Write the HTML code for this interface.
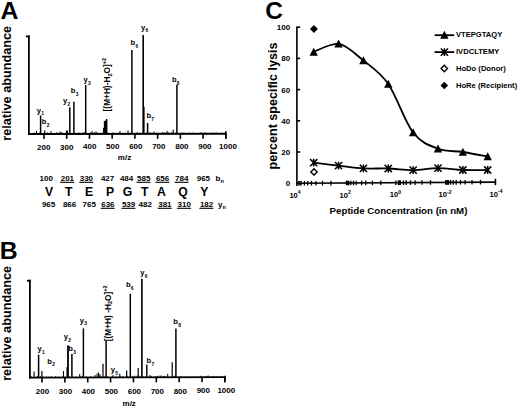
<!DOCTYPE html>
<html><head><meta charset="utf-8"><style>
html,body{margin:0;padding:0;background:#fff;width:520px;height:408px;overflow:hidden}
svg{display:block}
text{font-family:"Liberation Sans", sans-serif;fill:#000}
</style></head><body>
<svg width="520" height="408" viewBox="0 0 520 408">
<rect width="520" height="408" fill="#fff"/>
<text x="0.6" y="19.4" font-size="24.8" font-weight="bold" text-anchor="start" >A</text>
<text transform="translate(10.9,83.3) rotate(-90)" x="0" y="0" font-size="12.7" font-weight="bold" text-anchor="middle">relative abundance</text>
<line x1="28.9" y1="35.5" x2="28.9" y2="134.9" stroke="#000" stroke-width="1.8" />
<line x1="25.9" y1="36.4" x2="29.799999999999997" y2="36.4" stroke="#000" stroke-width="1.8" />
<line x1="28.0" y1="133.9" x2="226.4" y2="133.8" stroke="#000" stroke-width="2.0" />
<line x1="44.0" y1="133.8923311325546" x2="44.0" y2="138.8923311325546" stroke="#000" stroke-width="1.6" />
<text x="43.7" y="149.7" font-size="8" font-weight="bold" text-anchor="middle" >200</text>
<line x1="66.725" y1="133.88078974098528" x2="66.725" y2="138.88078974098528" stroke="#000" stroke-width="1.6" />
<text x="66.73" y="149.59" font-size="8" font-weight="bold" text-anchor="middle" >300</text>
<line x1="89.45" y1="133.86924834941595" x2="89.45" y2="138.86924834941595" stroke="#000" stroke-width="1.6" />
<text x="89.76" y="149.48" font-size="8" font-weight="bold" text-anchor="middle" >400</text>
<line x1="112.17500000000001" y1="133.85770695784663" x2="112.17500000000001" y2="138.85770695784663" stroke="#000" stroke-width="1.6" />
<text x="112.79" y="149.37" font-size="8" font-weight="bold" text-anchor="middle" >500</text>
<line x1="134.9" y1="133.8461655662773" x2="134.9" y2="138.8461655662773" stroke="#000" stroke-width="1.6" />
<text x="135.82" y="149.26" font-size="8" font-weight="bold" text-anchor="middle" >600</text>
<line x1="157.625" y1="133.83462417470798" x2="157.625" y2="138.83462417470798" stroke="#000" stroke-width="1.6" />
<text x="158.85" y="149.15" font-size="8" font-weight="bold" text-anchor="middle" >700</text>
<line x1="180.35000000000002" y1="133.82308278313866" x2="180.35000000000002" y2="138.82308278313866" stroke="#000" stroke-width="1.6" />
<text x="181.88" y="149.04" font-size="8" font-weight="bold" text-anchor="middle" >800</text>
<line x1="203.07500000000002" y1="133.81154139156934" x2="203.07500000000002" y2="138.81154139156934" stroke="#000" stroke-width="1.6" />
<text x="204.91" y="148.93" font-size="8" font-weight="bold" text-anchor="middle" >900</text>
<line x1="225.8" y1="133.8" x2="225.8" y2="138.8" stroke="#000" stroke-width="1.6" />
<text x="227.94" y="148.82" font-size="8" font-weight="bold" text-anchor="middle" >1000</text>
<line x1="225.8" y1="131.3" x2="225.8" y2="138.8" stroke="#000" stroke-width="1.6" />
<text x="124.5" y="160.2" font-size="8" font-weight="bold" text-anchor="middle" >m/z</text>
<line x1="30" y1="133.89944134078212" x2="30" y2="133.39944134078212" stroke="#000" stroke-width="0.9" />
<line x1="34.0" y1="133.89740985271712" x2="34.0" y2="132.4974098527171" stroke="#000" stroke-width="0.9" />
<line x1="36.3" y1="133.89624174707973" x2="36.3" y2="132.89624174707973" stroke="#000" stroke-width="0.9" />
<line x1="39.2" y1="133.89476891823261" x2="39.2" y2="132.5947689182326" stroke="#000" stroke-width="0.9" />
<line x1="43.0" y1="133.89283900457085" x2="43.0" y2="133.49283900457084" stroke="#000" stroke-width="0.9" />
<line x1="44.6" y1="133.89202640934485" x2="44.6" y2="132.29202640934486" stroke="#000" stroke-width="0.9" />
<line x1="47.4" y1="133.89060436769935" x2="47.4" y2="132.49060436769935" stroke="#000" stroke-width="0.9" />
<line x1="48.9" y1="133.88984255967497" x2="48.9" y2="132.88984255967497" stroke="#000" stroke-width="0.9" />
<line x1="52.6" y1="133.88796343321485" x2="52.6" y2="133.28796343321486" stroke="#000" stroke-width="0.9" />
<line x1="56.9" y1="133.88577958354495" x2="56.9" y2="132.18577958354496" stroke="#000" stroke-width="0.9" />
<line x1="58.5" y1="133.88496698831895" x2="58.5" y2="133.58496698831894" stroke="#000" stroke-width="0.9" />
<line x1="61.6" y1="133.88339258506858" x2="61.6" y2="132.1833925850686" stroke="#000" stroke-width="0.9" />
<line x1="64.3" y1="133.8820213306247" x2="64.3" y2="133.2820213306247" stroke="#000" stroke-width="0.9" />
<line x1="67.0" y1="133.8806500761808" x2="67.0" y2="133.5806500761808" stroke="#000" stroke-width="0.9" />
<line x1="69.2" y1="133.87953275774507" x2="69.2" y2="132.87953275774507" stroke="#000" stroke-width="0.9" />
<line x1="72.2" y1="133.8780091416963" x2="72.2" y2="133.27800914169632" stroke="#000" stroke-width="0.9" />
<line x1="74.4" y1="133.87689182326054" x2="74.4" y2="133.27689182326054" stroke="#000" stroke-width="0.9" />
<line x1="77.3" y1="133.87541899441342" x2="77.3" y2="133.17541899441343" stroke="#000" stroke-width="0.9" />
<line x1="78.8" y1="133.87465718638904" x2="78.8" y2="132.27465718638905" stroke="#000" stroke-width="0.9" />
<line x1="82.0" y1="133.87303199593703" x2="82.0" y2="132.57303199593701" stroke="#000" stroke-width="0.9" />
<line x1="84.1" y1="133.8719654647029" x2="84.1" y2="132.07196546470288" stroke="#000" stroke-width="0.9" />
<line x1="88.1" y1="133.8699339766379" x2="88.1" y2="133.3699339766379" stroke="#000" stroke-width="0.9" />
<line x1="90.6" y1="133.86866429659727" x2="90.6" y2="132.46866429659727" stroke="#000" stroke-width="0.9" />
<line x1="94.3" y1="133.86678517013712" x2="94.3" y2="132.16678517013713" stroke="#000" stroke-width="0.9" />
<line x1="97.0" y1="133.86541391569324" x2="97.0" y2="132.36541391569324" stroke="#000" stroke-width="0.9" />
<line x1="100.5" y1="133.86363636363637" x2="100.5" y2="133.06363636363636" stroke="#000" stroke-width="0.9" />
<line x1="103.8" y1="133.86196038598274" x2="103.8" y2="132.26196038598275" stroke="#000" stroke-width="0.9" />
<line x1="107.8" y1="133.85992889791774" x2="107.8" y2="132.75992889791775" stroke="#000" stroke-width="0.9" />
<line x1="111.1" y1="133.8582529202641" x2="111.1" y2="133.4582529202641" stroke="#000" stroke-width="0.9" />
<line x1="113.3" y1="133.85713560182836" x2="113.3" y2="132.35713560182836" stroke="#000" stroke-width="0.9" />
<line x1="116.1" y1="133.85571356018283" x2="116.1" y2="133.25571356018284" stroke="#000" stroke-width="0.9" />
<line x1="119.2" y1="133.85413915693246" x2="119.2" y2="132.45413915693246" stroke="#000" stroke-width="0.9" />
<line x1="122.8" y1="133.85231081767395" x2="122.8" y2="132.95231081767395" stroke="#000" stroke-width="0.9" />
<line x1="125.6" y1="133.85088877602846" x2="125.6" y2="132.75088877602846" stroke="#000" stroke-width="0.9" />
<line x1="129.4" y1="133.8489588623667" x2="129.4" y2="132.7489588623667" stroke="#000" stroke-width="0.9" />
<line x1="132.1" y1="133.8475876079228" x2="132.1" y2="132.8475876079228" stroke="#000" stroke-width="0.9" />
<line x1="133.7" y1="133.8467750126968" x2="133.7" y2="133.4467750126968" stroke="#000" stroke-width="0.9" />
<line x1="137.3" y1="133.8449466734383" x2="137.3" y2="132.0449466734383" stroke="#000" stroke-width="0.9" />
<line x1="140.6" y1="133.84327069578467" x2="140.6" y2="132.94327069578466" stroke="#000" stroke-width="0.9" />
<line x1="142.6" y1="133.84225495175218" x2="142.6" y2="132.7422549517522" stroke="#000" stroke-width="0.9" />
<line x1="147.0" y1="133.84002031488066" x2="147.0" y2="132.34002031488066" stroke="#000" stroke-width="0.9" />
<line x1="150.1" y1="133.8384459116303" x2="150.1" y2="132.2384459116303" stroke="#000" stroke-width="0.9" />
<line x1="152.3" y1="133.8373285931945" x2="152.3" y2="132.73732859319452" stroke="#000" stroke-width="0.9" />
<line x1="156.7" y1="133.83509395632302" x2="156.7" y2="132.63509395632303" stroke="#000" stroke-width="0.9" />
<line x1="159.6" y1="133.83362112747588" x2="159.6" y2="133.1336211274759" stroke="#000" stroke-width="0.9" />
<line x1="162.7" y1="133.8320467242255" x2="162.7" y2="132.13204672422552" stroke="#000" stroke-width="0.9" />
<line x1="164.2" y1="133.83128491620113" x2="164.2" y2="132.33128491620113" stroke="#000" stroke-width="0.9" />
<line x1="168.2" y1="133.82925342813613" x2="168.2" y2="132.22925342813613" stroke="#000" stroke-width="0.9" />
<line x1="171.9" y1="133.82737430167597" x2="171.9" y2="132.32737430167597" stroke="#000" stroke-width="0.9" />
<line x1="175.0" y1="133.8257998984256" x2="175.0" y2="132.7257998984256" stroke="#000" stroke-width="0.9" />
<line x1="177.7" y1="133.82442864398172" x2="177.7" y2="133.4244286439817" stroke="#000" stroke-width="0.9" />
<line x1="181.9" y1="133.82229558151346" x2="181.9" y2="132.62229558151347" stroke="#000" stroke-width="0.9" />
<line x1="184.0" y1="133.82122905027933" x2="184.0" y2="132.72122905027933" stroke="#000" stroke-width="0.9" />
<line x1="186.9" y1="133.81975622143221" x2="186.9" y2="133.0197562214322" stroke="#000" stroke-width="0.9" />
<line x1="189.5" y1="133.81843575418995" x2="189.5" y2="132.71843575418995" stroke="#000" stroke-width="0.9" />
<line x1="192.8" y1="133.81675977653632" x2="192.8" y2="132.61675977653633" stroke="#000" stroke-width="0.9" />
<line x1="195.7" y1="133.8152869476892" x2="195.7" y2="133.5152869476892" stroke="#000" stroke-width="0.9" />
<line x1="197.9" y1="133.81416962925343" x2="197.9" y2="133.21416962925343" stroke="#000" stroke-width="0.9" />
<line x1="201.1" y1="133.81254443880144" x2="201.1" y2="132.21254443880144" stroke="#000" stroke-width="0.9" />
<line x1="205.0" y1="133.81056373793805" x2="205.0" y2="132.31056373793805" stroke="#000" stroke-width="0.9" />
<line x1="209.0" y1="133.80853224987305" x2="209.0" y2="133.10853224987306" stroke="#000" stroke-width="0.9" />
<line x1="213.0" y1="133.80650076180802" x2="213.0" y2="132.506500761808" stroke="#000" stroke-width="0.9" />
<line x1="214.8" y1="133.80558659217877" x2="214.8" y2="133.50558659217876" stroke="#000" stroke-width="0.9" />
<line x1="216.3" y1="133.8048247841544" x2="216.3" y2="132.40482478415439" stroke="#000" stroke-width="0.9" />
<line x1="218.5" y1="133.80370746571865" x2="218.5" y2="133.30370746571865" stroke="#000" stroke-width="0.9" />
<line x1="221.9" y1="133.8019807008634" x2="221.9" y2="133.00198070086338" stroke="#000" stroke-width="0.9" />
<line x1="223.6" y1="133.80111731843576" x2="223.6" y2="133.30111731843576" stroke="#000" stroke-width="0.9" />
<line x1="36.5" y1="133.8961401726765" x2="36.5" y2="130.8" stroke="#000" stroke-width="1.1" />
<line x1="40.6" y1="133.89405789740985" x2="40.6" y2="115.5" stroke="#000" stroke-width="1.5" />
<line x1="44.7" y1="133.89197562214324" x2="44.7" y2="130.5" stroke="#000" stroke-width="1.2" />
<line x1="51" y1="133.88877602844084" x2="51" y2="131.2" stroke="#000" stroke-width="1" />
<line x1="60" y1="133.88420518029457" x2="60" y2="131.5" stroke="#000" stroke-width="1" />
<line x1="66.5" y1="133.88090401218892" x2="66.5" y2="130.6" stroke="#000" stroke-width="1.2" />
<line x1="67.6" y1="133.88034535297106" x2="67.6" y2="130.5" stroke="#000" stroke-width="1" />
<line x1="69.8" y1="133.87922803453532" x2="69.8" y2="107.2" stroke="#000" stroke-width="1.5" />
<line x1="73.9" y1="133.87714575926867" x2="73.9" y2="101.8" stroke="#000" stroke-width="1.5" />
<line x1="85.7" y1="133.8711528694769" x2="85.7" y2="84.9" stroke="#000" stroke-width="1.5" />
<line x1="103.4" y1="133.86216353478923" x2="103.4" y2="127.9" stroke="#000" stroke-width="1.0" />
<line x1="104.5" y1="133.86160487557137" x2="104.5" y2="121" stroke="#000" stroke-width="1.3" />
<line x1="105.6" y1="133.8610462163535" x2="105.6" y2="120.5" stroke="#000" stroke-width="1.3" />
<line x1="106.7" y1="133.8604875571356" x2="106.7" y2="118.9" stroke="#000" stroke-width="1.4" />
<line x1="131.9" y1="133.84768918232606" x2="131.9" y2="50.1" stroke="#000" stroke-width="1.5" />
<line x1="143.2" y1="133.84195022854243" x2="143.2" y2="35" stroke="#000" stroke-width="1.6" />
<line x1="144.1" y1="133.8414931437278" x2="144.1" y2="106.8" stroke="#000" stroke-width="1.0" />
<line x1="147.6" y1="133.8397155916709" x2="147.6" y2="123" stroke="#000" stroke-width="1.5" />
<line x1="173.2" y1="133.82671406805486" x2="173.2" y2="129.7" stroke="#000" stroke-width="1.1" />
<line x1="176.9" y1="133.82483494159473" x2="176.9" y2="84.7" stroke="#000" stroke-width="1.5" />
<line x1="120" y1="133.85373285931945" x2="120" y2="131" stroke="#000" stroke-width="1" />
<line x1="128" y1="133.84966988318945" x2="128" y2="130.5" stroke="#000" stroke-width="1" />
<line x1="154" y1="133.8364652107669" x2="154" y2="131.5" stroke="#000" stroke-width="1" />
<line x1="167" y1="133.82986287455563" x2="167" y2="131" stroke="#000" stroke-width="1" />
<line x1="92" y1="133.8679532757745" x2="92" y2="131" stroke="#000" stroke-width="1" />
<line x1="96" y1="133.8659217877095" x2="96" y2="131.5" stroke="#000" stroke-width="1" />
<text x="36.8" y="112.6" font-size="7.6" font-weight="bold">y<tspan font-size="4.9" dx="0.3" dy="2.7">1</tspan></text>
<text x="41.699999999999996" y="123.8" font-size="7.6" font-weight="bold">b<tspan font-size="4.9" dx="0.3" dy="2.7">2</tspan></text>
<text x="63.0" y="102.9" font-size="7.6" font-weight="bold">y<tspan font-size="4.9" dx="0.3" dy="2.7">2</tspan></text>
<text x="70.80000000000001" y="93.2" font-size="7.6" font-weight="bold">b<tspan font-size="4.9" dx="0.3" dy="2.7">3</tspan></text>
<text x="83.4" y="81.9" font-size="7.6" font-weight="bold">y<tspan font-size="4.9" dx="0.3" dy="2.7">3</tspan></text>
<text x="130.6" y="45.0" font-size="7.6" font-weight="bold">b<tspan font-size="4.9" dx="0.3" dy="2.7">6</tspan></text>
<text x="141.0" y="29.7" font-size="7.6" font-weight="bold">y<tspan font-size="4.9" dx="0.3" dy="2.7">6</tspan></text>
<text x="146.4" y="117.8" font-size="7.6" font-weight="bold">b<tspan font-size="4.9" dx="0.3" dy="2.7">7</tspan></text>
<text x="171.9" y="81.8" font-size="7.6" font-weight="bold">b<tspan font-size="4.9" dx="0.3" dy="2.7">8</tspan></text>
<text transform="translate(110.0,111.4) rotate(-90)" font-size="8.3" font-weight="bold">[(M+H)-H<tspan font-size="5.6" dy="1.6">2</tspan><tspan dy="-1.6">O]</tspan><tspan font-size="5.6" dy="-3.6">+2</tspan></text>
<text x="46.3" y="181.3" font-size="8" font-weight="bold" text-anchor="middle" >100</text>
<text x="67.4" y="181.3" font-size="8" font-weight="bold" text-anchor="middle" >201</text>
<line x1="60.2" y1="182.3" x2="74.2" y2="182.3" stroke="#000" stroke-width="1.1" />
<text x="86.4" y="181.3" font-size="8" font-weight="bold" text-anchor="middle" >330</text>
<line x1="79.2" y1="182.3" x2="93.2" y2="182.3" stroke="#000" stroke-width="1.1" />
<text x="107.6" y="181.3" font-size="8" font-weight="bold" text-anchor="middle" >427</text>
<text x="126.6" y="181.3" font-size="8" font-weight="bold" text-anchor="middle" >484</text>
<text x="143.7" y="181.3" font-size="8" font-weight="bold" text-anchor="middle" >585</text>
<line x1="136.5" y1="182.3" x2="150.5" y2="182.3" stroke="#000" stroke-width="1.1" />
<text x="162.6" y="181.3" font-size="8" font-weight="bold" text-anchor="middle" >656</text>
<line x1="155.4" y1="182.3" x2="169.4" y2="182.3" stroke="#000" stroke-width="1.1" />
<text x="181.8" y="181.3" font-size="8" font-weight="bold" text-anchor="middle" >784</text>
<line x1="174.60000000000002" y1="182.3" x2="188.60000000000002" y2="182.3" stroke="#000" stroke-width="1.1" />
<text x="203.4" y="181.3" font-size="8" font-weight="bold" text-anchor="middle" >965</text>
<text x="215.6" y="181" font-size="8" font-weight="bold">b<tspan font-size="5.5" dy="2">n</tspan></text>
<text x="49.1" y="196.3" font-size="12.2" font-weight="bold" text-anchor="middle" >V</text>
<text x="68.8" y="196.3" font-size="12.2" font-weight="bold" text-anchor="middle" >T</text>
<text x="89.1" y="196.3" font-size="12.2" font-weight="bold" text-anchor="middle" >E</text>
<text x="110" y="196.3" font-size="12.2" font-weight="bold" text-anchor="middle" >P</text>
<text x="127.5" y="196.3" font-size="12.2" font-weight="bold" text-anchor="middle" >G</text>
<text x="144.8" y="196.3" font-size="12.2" font-weight="bold" text-anchor="middle" >T</text>
<text x="161.4" y="196.3" font-size="12.2" font-weight="bold" text-anchor="middle" >A</text>
<text x="183.1" y="196.3" font-size="12.2" font-weight="bold" text-anchor="middle" >Q</text>
<text x="204.2" y="196.3" font-size="12.2" font-weight="bold" text-anchor="middle" >Y</text>
<text x="48.6" y="207.2" font-size="8" font-weight="bold" text-anchor="middle" >965</text>
<text x="69.6" y="207.2" font-size="8" font-weight="bold" text-anchor="middle" >866</text>
<text x="89.2" y="207.2" font-size="8" font-weight="bold" text-anchor="middle" >765</text>
<text x="107.9" y="207.2" font-size="8" font-weight="bold" text-anchor="middle" >636</text>
<line x1="100.7" y1="208.3" x2="114.7" y2="208.3" stroke="#000" stroke-width="1.1" />
<text x="128.6" y="207.2" font-size="8" font-weight="bold" text-anchor="middle" >539</text>
<line x1="121.39999999999999" y1="208.3" x2="135.4" y2="208.3" stroke="#000" stroke-width="1.1" />
<text x="145.3" y="207.2" font-size="8" font-weight="bold" text-anchor="middle" >482</text>
<text x="164.9" y="207.2" font-size="8" font-weight="bold" text-anchor="middle" >381</text>
<line x1="157.70000000000002" y1="208.3" x2="171.70000000000002" y2="208.3" stroke="#000" stroke-width="1.1" />
<text x="184.2" y="207.2" font-size="8" font-weight="bold" text-anchor="middle" >310</text>
<line x1="177.0" y1="208.3" x2="191.0" y2="208.3" stroke="#000" stroke-width="1.1" />
<text x="206.6" y="207.2" font-size="8" font-weight="bold" text-anchor="middle" >182</text>
<line x1="199.4" y1="208.3" x2="213.4" y2="208.3" stroke="#000" stroke-width="1.1" />
<text x="218" y="207" font-size="8" font-weight="bold">y<tspan font-size="5.5" dy="2">n</tspan></text>
<text x="-0.25" y="259.0" font-size="24.8" font-weight="bold" text-anchor="start" >B</text>
<text transform="translate(10.9,323.4) rotate(-90)" x="0" y="0" font-size="12.7" font-weight="bold" text-anchor="middle">relative abundance</text>
<line x1="29.9" y1="279.8" x2="29.9" y2="378.6" stroke="#000" stroke-width="1.8" />
<line x1="26.9" y1="280.7" x2="30.799999999999997" y2="280.7" stroke="#000" stroke-width="1.8" />
<line x1="29.0" y1="377.6" x2="225.48" y2="377.2" stroke="#000" stroke-width="1.7" />
<line x1="42.0" y1="377.57517694122475" x2="42.0" y2="382.57517694122475" stroke="#000" stroke-width="1.6" />
<text x="42.45" y="394.3" font-size="8" font-weight="bold" text-anchor="middle" >200</text>
<line x1="64.86" y1="377.52827982357167" x2="64.86" y2="382.52827982357167" stroke="#000" stroke-width="1.6" />
<text x="65.43" y="394.18" font-size="8" font-weight="bold" text-anchor="middle" >300</text>
<line x1="87.72" y1="377.4813827059186" x2="87.72" y2="382.4813827059186" stroke="#000" stroke-width="1.6" />
<text x="88.41" y="394.06" font-size="8" font-weight="bold" text-anchor="middle" >400</text>
<line x1="110.58" y1="377.4344855882655" x2="110.58" y2="382.4344855882655" stroke="#000" stroke-width="1.6" />
<text x="111.39" y="393.94" font-size="8" font-weight="bold" text-anchor="middle" >500</text>
<line x1="133.44" y1="377.3875884706124" x2="133.44" y2="382.3875884706124" stroke="#000" stroke-width="1.6" />
<text x="134.37" y="393.82" font-size="8" font-weight="bold" text-anchor="middle" >600</text>
<line x1="156.3" y1="377.34069135295925" x2="156.3" y2="382.34069135295925" stroke="#000" stroke-width="1.6" />
<text x="157.35" y="393.7" font-size="8" font-weight="bold" text-anchor="middle" >700</text>
<line x1="179.16" y1="377.29379423530617" x2="179.16" y2="382.29379423530617" stroke="#000" stroke-width="1.6" />
<text x="180.33" y="393.58" font-size="8" font-weight="bold" text-anchor="middle" >800</text>
<line x1="202.01999999999998" y1="377.2468971176531" x2="202.01999999999998" y2="382.2468971176531" stroke="#000" stroke-width="1.6" />
<text x="203.31" y="393.46" font-size="8" font-weight="bold" text-anchor="middle" >900</text>
<line x1="224.88" y1="377.2" x2="224.88" y2="382.2" stroke="#000" stroke-width="1.6" />
<text x="226.29" y="393.34" font-size="8" font-weight="bold" text-anchor="middle" >1000</text>
<line x1="224.88" y1="376.59999999999997" x2="224.88" y2="382.2" stroke="#000" stroke-width="1.6" />
<text x="129.2" y="406.4" font-size="8" font-weight="bold" text-anchor="middle" >m/z</text>
<line x1="31" y1="377.5977433582932" x2="31" y2="375.8977433582932" stroke="#000" stroke-width="0.9" />
<line x1="35.3" y1="377.5889219407119" x2="35.3" y2="377.1889219407119" stroke="#000" stroke-width="0.9" />
<line x1="37.1" y1="377.5852292542825" x2="37.1" y2="375.9852292542825" stroke="#000" stroke-width="0.9" />
<line x1="40.8" y1="377.57763873217766" x2="40.8" y2="376.27763873217765" stroke="#000" stroke-width="0.9" />
<line x1="43.2" y1="377.57271515027185" x2="43.2" y2="376.37271515027186" stroke="#000" stroke-width="0.9" />
<line x1="46.6" y1="377.56574007590524" x2="46.6" y2="376.36574007590525" stroke="#000" stroke-width="0.9" />
<line x1="48.5" y1="377.5618422402298" x2="48.5" y2="376.6618422402298" stroke="#000" stroke-width="0.9" />
<line x1="51.2" y1="377.5563032105857" x2="51.2" y2="376.15630321058575" stroke="#000" stroke-width="0.9" />
<line x1="55.7" y1="377.5470714945123" x2="55.7" y2="375.8470714945123" stroke="#000" stroke-width="0.9" />
<line x1="58.8" y1="377.5407118678839" x2="58.8" y2="376.5407118678839" stroke="#000" stroke-width="0.9" />
<line x1="61.1" y1="377.53599343522416" x2="61.1" y2="377.1359934352242" stroke="#000" stroke-width="0.9" />
<line x1="62.7" y1="377.5327110472869" x2="62.7" y2="376.5327110472869" stroke="#000" stroke-width="0.9" />
<line x1="65.2" y1="377.527582316135" x2="65.2" y2="376.62758231613503" stroke="#000" stroke-width="0.9" />
<line x1="69.3" y1="377.51917119704586" x2="69.3" y2="376.41917119704584" stroke="#000" stroke-width="0.9" />
<line x1="72.5" y1="377.5126064211714" x2="72.5" y2="376.81260642117144" stroke="#000" stroke-width="0.9" />
<line x1="74.1" y1="377.5093240332342" x2="74.1" y2="376.70932403323417" stroke="#000" stroke-width="0.9" />
<line x1="76.0" y1="377.50542619755873" x2="76.0" y2="376.4054261975587" stroke="#000" stroke-width="0.9" />
<line x1="80.5" y1="377.4961944814853" x2="80.5" y2="376.1961944814853" stroke="#000" stroke-width="0.9" />
<line x1="82.5" y1="377.4920914965638" x2="82.5" y2="375.89209149656375" stroke="#000" stroke-width="0.9" />
<line x1="86.4" y1="377.4840906759668" x2="86.4" y2="376.0840906759668" stroke="#000" stroke-width="0.9" />
<line x1="90.7" y1="377.4752692583855" x2="90.7" y2="376.0752692583855" stroke="#000" stroke-width="0.9" />
<line x1="94.5" y1="377.4674735870346" x2="94.5" y2="376.6674735870346" stroke="#000" stroke-width="0.9" />
<line x1="99.0" y1="377.45824187096116" x2="99.0" y2="375.75824187096117" stroke="#000" stroke-width="0.9" />
<line x1="101.0" y1="377.45413888603963" x2="101.0" y2="376.05413888603965" stroke="#000" stroke-width="0.9" />
<line x1="104.6" y1="377.44675351318085" x2="104.6" y2="376.44675351318085" stroke="#000" stroke-width="0.9" />
<line x1="107.7" y1="377.4403938865525" x2="107.7" y2="376.4403938865525" stroke="#000" stroke-width="0.9" />
<line x1="112.0" y1="377.4315724689712" x2="112.0" y2="376.33157246897116" stroke="#000" stroke-width="0.9" />
<line x1="116.0" y1="377.4233664991281" x2="116.0" y2="376.6233664991281" stroke="#000" stroke-width="0.9" />
<line x1="120.1" y1="377.414955380039" x2="120.1" y2="375.81495538003895" stroke="#000" stroke-width="0.9" />
<line x1="123.0" y1="377.4090060519028" x2="123.0" y2="376.2090060519028" stroke="#000" stroke-width="0.9" />
<line x1="127.3" y1="377.4001846343215" x2="127.3" y2="376.0001846343215" stroke="#000" stroke-width="0.9" />
<line x1="130.2" y1="377.39423530618524" x2="130.2" y2="376.7942353061852" stroke="#000" stroke-width="0.9" />
<line x1="132.7" y1="377.38910657503334" x2="132.7" y2="376.0891065750333" stroke="#000" stroke-width="0.9" />
<line x1="134.7" y1="377.3850035901118" x2="134.7" y2="375.6850035901118" stroke="#000" stroke-width="0.9" />
<line x1="137.0" y1="377.3802851574521" x2="137.0" y2="375.6802851574521" stroke="#000" stroke-width="0.9" />
<line x1="139.4" y1="377.3753615755462" x2="139.4" y2="375.6753615755462" stroke="#000" stroke-width="0.9" />
<line x1="143.0" y1="377.36797620268743" x2="143.0" y2="376.2679762026874" stroke="#000" stroke-width="0.9" />
<line x1="146.1" y1="377.3616165760591" x2="146.1" y2="376.06161657605907" stroke="#000" stroke-width="0.9" />
<line x1="149.4" y1="377.35484665093855" x2="149.4" y2="376.55484665093854" stroke="#000" stroke-width="0.9" />
<line x1="151.5" y1="377.35053851677094" x2="151.5" y2="376.2505385167709" stroke="#000" stroke-width="0.9" />
<line x1="155.8" y1="377.3417170991897" x2="155.8" y2="376.1417170991897" stroke="#000" stroke-width="0.9" />
<line x1="157.5" y1="377.33822956200635" x2="157.5" y2="375.83822956200635" stroke="#000" stroke-width="0.9" />
<line x1="161.2" y1="377.33063903990154" x2="161.2" y2="375.63063903990155" stroke="#000" stroke-width="0.9" />
<line x1="163.3" y1="377.3263309057339" x2="163.3" y2="375.92633090573395" stroke="#000" stroke-width="0.9" />
<line x1="164.9" y1="377.3230485177967" x2="164.9" y2="376.02304851779667" stroke="#000" stroke-width="0.9" />
<line x1="167.3" y1="377.31812493589086" x2="167.3" y2="376.71812493589084" stroke="#000" stroke-width="0.9" />
<line x1="171.4" y1="377.3097138168017" x2="171.4" y2="376.8097138168017" stroke="#000" stroke-width="0.9" />
<line x1="174.4" y1="377.30355933941945" x2="174.4" y2="375.7035593394194" stroke="#000" stroke-width="0.9" />
<line x1="176.7" y1="377.29884090675966" x2="176.7" y2="376.69884090675964" stroke="#000" stroke-width="0.9" />
<line x1="180.8" y1="377.2904297876705" x2="180.8" y2="376.39042978767054" stroke="#000" stroke-width="0.9" />
<line x1="184.5" y1="377.2828392655657" x2="184.5" y2="376.9828392655657" stroke="#000" stroke-width="0.9" />
<line x1="187.1" y1="377.27750538516773" x2="187.1" y2="376.6775053851677" stroke="#000" stroke-width="0.9" />
<line x1="190.6" y1="377.27032516155504" x2="190.6" y2="376.87032516155506" stroke="#000" stroke-width="0.9" />
<line x1="194.9" y1="377.2615037439737" x2="194.9" y2="376.9615037439737" stroke="#000" stroke-width="0.9" />
<line x1="198.6" y1="377.2539132218689" x2="198.6" y2="376.9539132218689" stroke="#000" stroke-width="0.9" />
<line x1="200.9" y1="377.2491947892091" x2="200.9" y2="375.7491947892091" stroke="#000" stroke-width="0.9" />
<line x1="202.9" y1="377.2450918042876" x2="202.9" y2="376.6450918042876" stroke="#000" stroke-width="0.9" />
<line x1="206.4" y1="377.23791158067496" x2="206.4" y2="376.337911580675" stroke="#000" stroke-width="0.9" />
<line x1="208.1" y1="377.23442404349163" x2="208.1" y2="375.4344240434916" stroke="#000" stroke-width="0.9" />
<line x1="210.0" y1="377.2305262078162" x2="210.0" y2="376.8305262078162" stroke="#000" stroke-width="0.9" />
<line x1="212.6" y1="377.2251923274182" x2="212.6" y2="376.0251923274182" stroke="#000" stroke-width="0.9" />
<line x1="216.3" y1="377.21760180531334" x2="216.3" y2="376.71760180531334" stroke="#000" stroke-width="0.9" />
<line x1="218.8" y1="377.21247307416144" x2="218.8" y2="376.9124730741614" stroke="#000" stroke-width="0.9" />
<line x1="221.6" y1="377.2067288952713" x2="221.6" y2="375.8067288952713" stroke="#000" stroke-width="0.9" />
<line x1="225.4" y1="377.1989332239204" x2="225.4" y2="375.4989332239204" stroke="#000" stroke-width="0.9" />
<line x1="34.1" y1="377.5913837316648" x2="34.1" y2="371.6" stroke="#000" stroke-width="1.1" />
<line x1="38.6" y1="377.58215201559136" x2="38.6" y2="354.7" stroke="#000" stroke-width="1.5" />
<line x1="41.9" y1="377.57538209047084" x2="41.9" y2="370.9" stroke="#000" stroke-width="1.2" />
<line x1="63.5" y1="377.5310698533183" x2="63.5" y2="371" stroke="#000" stroke-width="1.1" />
<line x1="67.0" y1="377.52388962970565" x2="67.0" y2="367" stroke="#000" stroke-width="1.1" />
<line x1="68.0" y1="377.52183813724486" x2="68.0" y2="345.4" stroke="#000" stroke-width="1.8" />
<line x1="71.9" y1="377.5138373166479" x2="71.9" y2="354.1" stroke="#000" stroke-width="1.5" />
<line x1="79.7" y1="377.4978356754539" x2="79.7" y2="374" stroke="#000" stroke-width="1" />
<line x1="83.4" y1="377.49024515334906" x2="83.4" y2="328.4" stroke="#000" stroke-width="1.5" />
<line x1="95" y1="377.4664478408042" x2="95" y2="375" stroke="#000" stroke-width="1" />
<line x1="97" y1="377.4623448558827" x2="97" y2="373.5" stroke="#000" stroke-width="1" />
<line x1="98.5" y1="377.45926761719153" x2="98.5" y2="372.5" stroke="#000" stroke-width="1" />
<line x1="100" y1="377.45619037850037" x2="100" y2="374" stroke="#000" stroke-width="1" />
<line x1="103" y1="377.4500359011181" x2="103" y2="363.8" stroke="#000" stroke-width="1.2" />
<line x1="106.1" y1="377.4436762744897" x2="106.1" y2="340.9" stroke="#000" stroke-width="1.5" />
<line x1="119.8" y1="377.41557082777723" x2="119.8" y2="373.7" stroke="#000" stroke-width="1" />
<line x1="126.7" y1="377.40141552979793" x2="126.7" y2="370.5" stroke="#000" stroke-width="1.2" />
<line x1="130.3" y1="377.39403015693915" x2="130.3" y2="293.8" stroke="#000" stroke-width="1.5" />
<line x1="138.2" y1="377.3778233664991" x2="138.2" y2="367.9" stroke="#000" stroke-width="1.2" />
<line x1="141.9" y1="377.3702328443943" x2="141.9" y2="278.8" stroke="#000" stroke-width="1.6" />
<line x1="146.8" y1="377.36018053133654" x2="146.8" y2="364.5" stroke="#000" stroke-width="1.4" />
<line x1="167.7" y1="377.3173043389066" x2="167.7" y2="373.8" stroke="#000" stroke-width="1" />
<line x1="172.2" y1="377.3080726228331" x2="172.2" y2="362.3" stroke="#000" stroke-width="1.2" />
<line x1="175.9" y1="377.3004821007283" x2="175.9" y2="328.4" stroke="#000" stroke-width="1.5" />
<line x1="113" y1="377.42952097651045" x2="113" y2="375" stroke="#000" stroke-width="1" />
<line x1="150" y1="377.3536157554621" x2="150" y2="375" stroke="#000" stroke-width="1" />
<line x1="160" y1="377.33310083085445" x2="160" y2="375.5" stroke="#000" stroke-width="1" />
<text x="37.5" y="351.3" font-size="7.6" font-weight="bold">y<tspan font-size="4.9" dx="0.3" dy="2.7">1</tspan></text>
<text x="47.3" y="363.6" font-size="7.6" font-weight="bold">b<tspan font-size="4.9" dx="0.3" dy="2.7">2</tspan></text>
<text x="63.8" y="338.9" font-size="7.6" font-weight="bold">y<tspan font-size="4.9" dx="0.3" dy="2.7">2</tspan></text>
<text x="68.30000000000001" y="351.0" font-size="7.6" font-weight="bold">b<tspan font-size="4.9" dx="0.3" dy="2.7">3</tspan></text>
<text x="79.7" y="322.7" font-size="7.6" font-weight="bold">y<tspan font-size="4.9" dx="0.3" dy="2.7">3</tspan></text>
<text x="110.8" y="371.8" font-size="7.6" font-weight="bold">y<tspan font-size="4.9" dx="0.3" dy="2.7">5</tspan></text>
<text x="125.9" y="287.2" font-size="7.6" font-weight="bold">b<tspan font-size="4.9" dx="0.3" dy="2.7">6</tspan></text>
<text x="140.2" y="275.4" font-size="7.6" font-weight="bold">y<tspan font-size="4.9" dx="0.3" dy="2.7">6</tspan></text>
<text x="146.6" y="363.1" font-size="7.6" font-weight="bold">b<tspan font-size="4.9" dx="0.3" dy="2.7">7</tspan></text>
<text x="173.3" y="324.0" font-size="7.6" font-weight="bold">b<tspan font-size="4.9" dx="0.3" dy="2.7">8</tspan></text>
<text transform="translate(110.6,341.2) rotate(-90)" font-size="8.3" font-weight="bold">[(M+H) -H<tspan font-size="5.6" dy="1.6">2</tspan><tspan dy="-1.6">O]</tspan><tspan font-size="5.6" dy="-3.6">+2</tspan></text>
<text x="265.3" y="18.7" font-size="24.5" font-weight="bold" text-anchor="start" >C</text>
<text transform="translate(277.2,106.0) rotate(-90)" font-size="12.55" font-weight="bold" text-anchor="middle">percent specific lysis</text>
<line x1="296.9" y1="26.599999999999987" x2="296.9" y2="186" stroke="#000" stroke-width="1.6" />
<line x1="296.9" y1="183.2" x2="300.09999999999997" y2="183.2" stroke="#000" stroke-width="1.6" />
<text x="290.2" y="186.1" font-size="8" font-weight="bold" text-anchor="end" >0</text>
<line x1="296.9" y1="152.0" x2="300.09999999999997" y2="152.0" stroke="#000" stroke-width="1.6" />
<text x="290.2" y="154.9" font-size="8" font-weight="bold" text-anchor="end" >20</text>
<line x1="296.9" y1="120.79999999999998" x2="300.09999999999997" y2="120.79999999999998" stroke="#000" stroke-width="1.6" />
<text x="290.2" y="123.69999999999999" font-size="8" font-weight="bold" text-anchor="end" >40</text>
<line x1="296.9" y1="89.59999999999998" x2="300.09999999999997" y2="89.59999999999998" stroke="#000" stroke-width="1.6" />
<text x="290.2" y="92.49999999999999" font-size="8" font-weight="bold" text-anchor="end" >60</text>
<line x1="296.9" y1="58.39999999999998" x2="300.09999999999997" y2="58.39999999999998" stroke="#000" stroke-width="1.6" />
<text x="290.2" y="61.299999999999976" font-size="8" font-weight="bold" text-anchor="end" >80</text>
<line x1="296.9" y1="27.19999999999999" x2="300.09999999999997" y2="27.19999999999999" stroke="#000" stroke-width="1.6" />
<text x="290.2" y="30.099999999999987" font-size="8" font-weight="bold" text-anchor="end" >100</text>
<line x1="296.9" y1="183.3006" x2="496.2" y2="182.1048" stroke="#000" stroke-width="1.6" />
<line x1="298.8" y1="180.99" x2="298.8" y2="185.59" stroke="#000" stroke-width="1.3" />
<line x1="300.0" y1="180.98" x2="300.0" y2="185.58" stroke="#000" stroke-width="1.3" />
<line x1="301.1" y1="180.98" x2="301.1" y2="185.58" stroke="#000" stroke-width="1.3" />
<line x1="304.4" y1="180.96" x2="304.4" y2="185.56" stroke="#000" stroke-width="1.3" />
<line x1="307.7" y1="180.94" x2="307.7" y2="185.54" stroke="#000" stroke-width="1.3" />
<line x1="311.5" y1="180.91" x2="311.5" y2="185.51" stroke="#000" stroke-width="1.3" />
<line x1="315.9" y1="180.89" x2="315.9" y2="185.49" stroke="#000" stroke-width="1.3" />
<line x1="322.5" y1="180.85" x2="322.5" y2="185.45" stroke="#000" stroke-width="1.3" />
<line x1="330.9" y1="180.8" x2="330.9" y2="185.4" stroke="#000" stroke-width="1.3" />
<line x1="346.4" y1="180.7" x2="346.4" y2="185.3" stroke="#000" stroke-width="1.3" />
<line x1="347.6" y1="180.7" x2="347.6" y2="185.3" stroke="#000" stroke-width="1.3" />
<line x1="348.7" y1="180.69" x2="348.7" y2="185.29" stroke="#000" stroke-width="1.3" />
<line x1="350.8" y1="180.68" x2="350.8" y2="185.28" stroke="#000" stroke-width="1.3" />
<line x1="353.5" y1="180.66" x2="353.5" y2="185.26" stroke="#000" stroke-width="1.3" />
<line x1="356.2" y1="180.64" x2="356.2" y2="185.24" stroke="#000" stroke-width="1.3" />
<line x1="361.6" y1="180.61" x2="361.6" y2="185.21" stroke="#000" stroke-width="1.3" />
<line x1="365.8" y1="180.59" x2="365.8" y2="185.19" stroke="#000" stroke-width="1.3" />
<line x1="372.4" y1="180.55" x2="372.4" y2="185.15" stroke="#000" stroke-width="1.3" />
<line x1="380.8" y1="180.5" x2="380.8" y2="185.1" stroke="#000" stroke-width="1.3" />
<line x1="395.8" y1="180.41" x2="395.8" y2="185.01" stroke="#000" stroke-width="1.3" />
<line x1="398.4" y1="180.39" x2="398.4" y2="184.99" stroke="#000" stroke-width="1.3" />
<line x1="399.4" y1="180.39" x2="399.4" y2="184.99" stroke="#000" stroke-width="1.3" />
<line x1="400.4" y1="180.38" x2="400.4" y2="184.98" stroke="#000" stroke-width="1.3" />
<line x1="403.5" y1="180.36" x2="403.5" y2="184.96" stroke="#000" stroke-width="1.3" />
<line x1="406.2" y1="180.34" x2="406.2" y2="184.94" stroke="#000" stroke-width="1.3" />
<line x1="410.5" y1="180.32" x2="410.5" y2="184.92" stroke="#000" stroke-width="1.3" />
<line x1="415.1" y1="180.29" x2="415.1" y2="184.89" stroke="#000" stroke-width="1.3" />
<line x1="422.0" y1="180.25" x2="422.0" y2="184.85" stroke="#000" stroke-width="1.3" />
<line x1="430.5" y1="180.2" x2="430.5" y2="184.8" stroke="#000" stroke-width="1.3" />
<line x1="445.7" y1="180.11" x2="445.7" y2="184.71" stroke="#000" stroke-width="1.3" />
<line x1="446.8" y1="180.1" x2="446.8" y2="184.7" stroke="#000" stroke-width="1.3" />
<line x1="447.8" y1="180.1" x2="447.8" y2="184.7" stroke="#000" stroke-width="1.3" />
<line x1="448.4" y1="180.09" x2="448.4" y2="184.69" stroke="#000" stroke-width="1.3" />
<line x1="450.5" y1="180.08" x2="450.5" y2="184.68" stroke="#000" stroke-width="1.3" />
<line x1="453.2" y1="180.06" x2="453.2" y2="184.66" stroke="#000" stroke-width="1.3" />
<line x1="456.2" y1="180.04" x2="456.2" y2="184.64" stroke="#000" stroke-width="1.3" />
<line x1="460.5" y1="180.02" x2="460.5" y2="184.62" stroke="#000" stroke-width="1.3" />
<line x1="465.1" y1="179.99" x2="465.1" y2="184.59" stroke="#000" stroke-width="1.3" />
<line x1="472.0" y1="179.95" x2="472.0" y2="184.55" stroke="#000" stroke-width="1.3" />
<line x1="480.5" y1="179.9" x2="480.5" y2="184.5" stroke="#000" stroke-width="1.3" />
<line x1="495.4" y1="178.7" x2="495.4" y2="185.2" stroke="#000" stroke-width="1.6" />
<text x="295.0" y="197.88" font-size="7.6" font-weight="bold" text-anchor="middle">10<tspan font-size="5" dy="-3.5">4</tspan></text>
<text x="345.1" y="197.62" font-size="7.6" font-weight="bold" text-anchor="middle">10<tspan font-size="5" dy="-3.5">2</tspan></text>
<text x="395.4" y="197.37" font-size="7.6" font-weight="bold" text-anchor="middle">10<tspan font-size="5" dy="-3.5">0</tspan></text>
<text x="445.0" y="197.12" font-size="7.6" font-weight="bold" text-anchor="middle">10<tspan font-size="5" dy="-3.5">-2</tspan></text>
<text x="496.0" y="196.87" font-size="7.6" font-weight="bold" text-anchor="middle">10<tspan font-size="5" dy="-3.5">-4</tspan></text>
<text x="398.5" y="213.7" font-size="9.7" font-weight="bold" text-anchor="middle" >Peptide Concentration (in nM)</text>
<path d="M313.70,51.90 C322.20,48.10 330.06,43.70 338.56,43.60 C346.85,45.03 355.13,53.77 363.42,60.50 C371.71,67.23 379.99,72.00 388.28,84.00 C396.57,96.00 404.85,121.72 413.14,132.50 C421.43,143.28 429.71,145.45 438.00,148.70 C446.29,151.95 454.57,150.70 462.86,152.00 C471.15,153.30 483.58,155.75 487.72,156.50" fill="none" stroke="#000" stroke-width="1.8"/>
<path d="M313.70,162.70 C317.84,163.18 330.27,164.65 338.56,165.60 C346.85,166.55 355.13,167.92 363.42,168.40 C371.71,168.88 379.99,168.22 388.28,168.50 C396.57,168.78 404.85,170.17 413.14,170.10 C421.43,170.03 429.71,168.12 438.00,168.10 C446.29,168.08 454.57,169.68 462.86,170.00 C471.15,170.32 483.58,170.00 487.72,170.00" fill="none" stroke="#000" stroke-width="1.8"/>
<path d="M313.70,47.70 L317.90,55.68 L309.50,55.68 Z" fill="#000"/>
<path d="M338.56,39.40 L342.76,47.38 L334.36,47.38 Z" fill="#000"/>
<path d="M363.42,56.30 L367.62,64.28 L359.22,64.28 Z" fill="#000"/>
<path d="M388.28,79.80 L392.48,87.78 L384.08,87.78 Z" fill="#000"/>
<path d="M413.14,128.30 L417.34,136.28 L408.94,136.28 Z" fill="#000"/>
<path d="M438.00,144.50 L442.20,152.48 L433.80,152.48 Z" fill="#000"/>
<path d="M462.86,147.80 L467.06,155.78 L458.66,155.78 Z" fill="#000"/>
<path d="M487.72,152.30 L491.92,160.28 L483.52,160.28 Z" fill="#000"/>
<path d="M310.10,159.10 L317.30,166.30 M317.30,159.10 L310.10,166.30 M313.70,158.80 L313.70,166.60" stroke="#000" stroke-width="1.5" fill="none"/>
<path d="M334.96,162.00 L342.16,169.20 M342.16,162.00 L334.96,169.20 M338.56,161.70 L338.56,169.50" stroke="#000" stroke-width="1.5" fill="none"/>
<path d="M359.82,164.80 L367.02,172.00 M367.02,164.80 L359.82,172.00 M363.42,164.50 L363.42,172.30" stroke="#000" stroke-width="1.5" fill="none"/>
<path d="M384.68,164.90 L391.88,172.10 M391.88,164.90 L384.68,172.10 M388.28,164.60 L388.28,172.40" stroke="#000" stroke-width="1.5" fill="none"/>
<path d="M409.54,166.50 L416.74,173.70 M416.74,166.50 L409.54,173.70 M413.14,166.20 L413.14,174.00" stroke="#000" stroke-width="1.5" fill="none"/>
<path d="M434.40,164.50 L441.60,171.70 M441.60,164.50 L434.40,171.70 M438.00,164.20 L438.00,172.00" stroke="#000" stroke-width="1.5" fill="none"/>
<path d="M459.26,166.40 L466.46,173.60 M466.46,166.40 L459.26,173.60 M462.86,166.10 L462.86,173.90" stroke="#000" stroke-width="1.5" fill="none"/>
<path d="M484.12,166.40 L491.32,173.60 M491.32,166.40 L484.12,173.60 M487.72,166.10 L487.72,173.90" stroke="#000" stroke-width="1.5" fill="none"/>
<path d="M313.90,25.00 L317.90,29.00 L313.90,33.00 L309.90,29.00 Z" fill="#000"/>
<path d="M314.00,168.70 L317.20,171.90 L314.00,175.10 L310.80,171.90 Z" fill="#fff" stroke="#000" stroke-width="1.4"/>
<line x1="434.6" y1="35.2" x2="454.2" y2="35.2" stroke="#000" stroke-width="1.8" />
<path d="M444.40,30.80 L448.60,38.78 L440.20,38.78 Z" fill="#000"/>
<text x="456.0" y="37.2" font-size="7.6" font-weight="bold" text-anchor="start" >VTEPGTAQY</text>
<line x1="434.6" y1="52.1" x2="454.2" y2="52.1" stroke="#000" stroke-width="1.8" />
<path d="M440.80,48.50 L448.00,55.70 M448.00,48.50 L440.80,55.70 M444.40,48.20 L444.40,56.00" stroke="#000" stroke-width="1.5" fill="none"/>
<text x="456.0" y="54.3" font-size="7.6" font-weight="bold" text-anchor="start" >IVDCLTEMY</text>
<path d="M444.30,65.30 L447.50,68.50 L444.30,71.70 L441.10,68.50 Z" fill="#fff" stroke="#000" stroke-width="1.4"/>
<text x="456.0" y="71.0" font-size="7.6" font-weight="bold" text-anchor="start" >HoDo (Donor)</text>
<path d="M444.30,81.70 L448.10,85.50 L444.30,89.30 L440.50,85.50 Z" fill="#000"/>
<text x="456.0" y="88.0" font-size="7.6" font-weight="bold" text-anchor="start" >HoRe (Recipient)</text>
</svg>
</body></html>
